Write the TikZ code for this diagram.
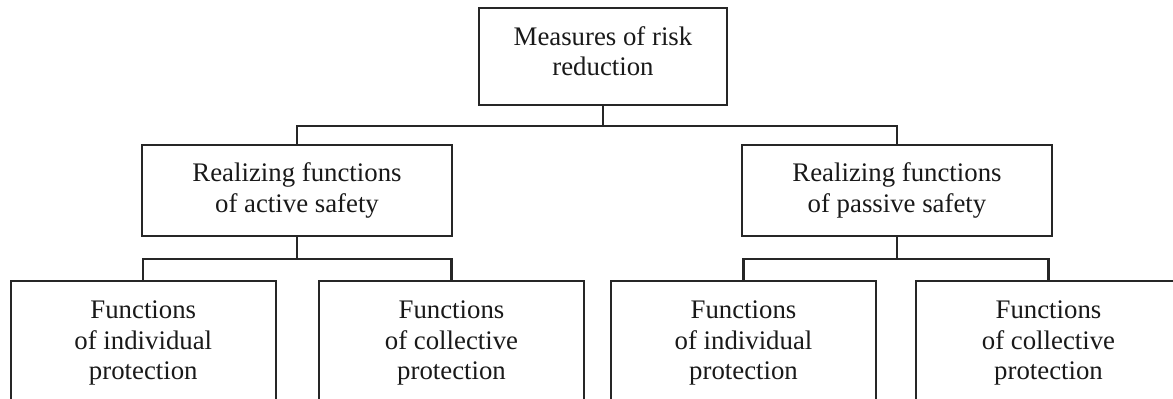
\documentclass[tikz,border=0pt]{standalone}
\usepackage{fontspec}
\setmainfont{Liberation Serif}

\begin{document}
\begin{tikzpicture}[x=0.5pt,y=-0.5pt,
  main box/.style={draw=black!85,line width=1.1pt,align=center,text=black!90,
    inner sep=0pt,font=\fontsize{13.4}{15.3}\selectfont},
  top box/.style={main box,minimum width=124pt,minimum height=48.5pt,text depth=5.5pt},
  mid box/.style={main box,minimum width=155pt,minimum height=45.35pt},
  leaf box/.style={main box,minimum width=132.5pt,minimum height=62.3pt},
  conn/.style={draw=black!85,line width=1.1pt}]

  \useasboundingbox (0,0) rectangle (1173,399);

  \node[top box] (risk) at (603,56.5) {Measures of risk\\reduction};
  \node[mid box] (active) at (297,190.4) {Realizing functions\\of active safety};
  \node[mid box] (passive) at (897,190.4) {Realizing functions\\of passive safety};
  \node[leaf box] (a1) at (143.3,343) {Functions\\of individual\\protection};
  \node[leaf box] (a2) at (451.5,343) {Functions\\of collective\\protection};
  \node[leaf box] (p1) at (743.5,343) {Functions\\of individual\\protection};
  \node[leaf box] (p2) at (1048.5,343) {Functions\\of collective\\protection};

  \draw[conn] (risk.south) -- ++(0,20) -| (active.north);
  \draw[conn] (risk.south) -- ++(0,20) -| (passive.north);
  \draw[conn] (active.south) -- ++(0,22.3) -| (a1.north);
  \draw[conn] (active.south) -- ++(0,22.3) -| (a2.north);
  \draw[conn] (passive.south) -- ++(0,22.3) -| (p1.north);
  \draw[conn] (passive.south) -- ++(0,22.3) -| (p2.north);

\end{tikzpicture}
\end{document}
